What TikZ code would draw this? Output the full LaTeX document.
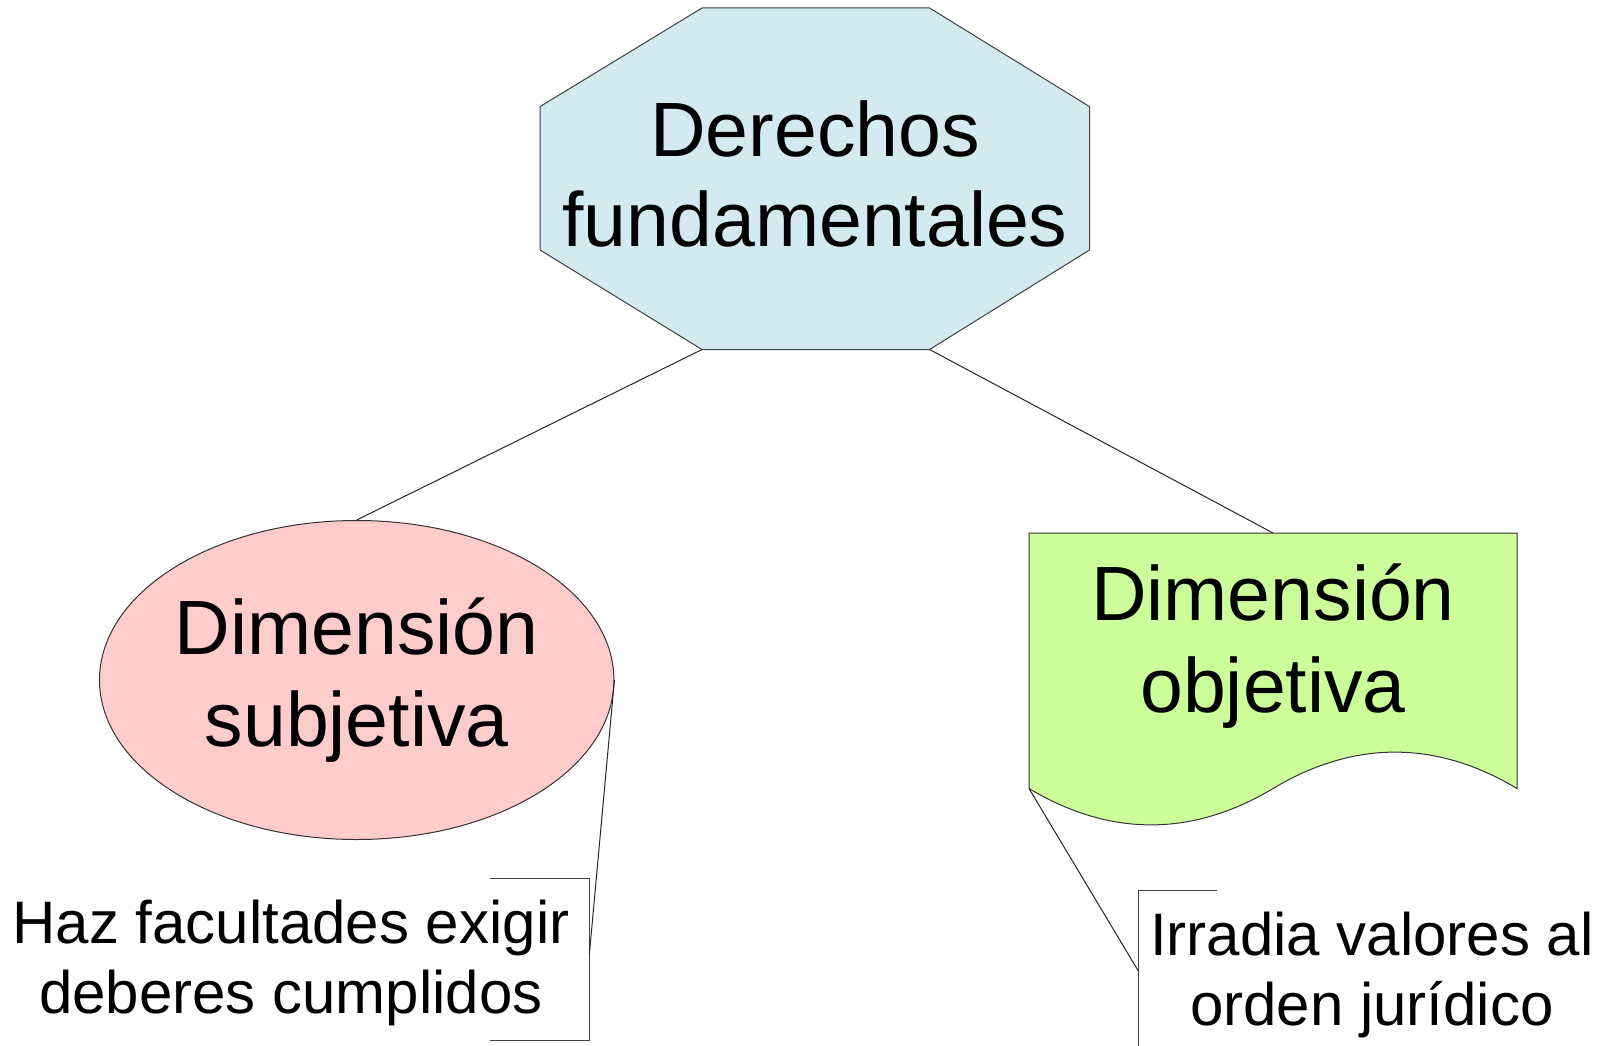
\documentclass[tikz,border=0pt]{standalone}
\usepackage{fontspec}
\setmainfont{Liberation Sans}
\usepackage{tikz}
\usetikzlibrary{shapes.geometric}
\usetikzlibrary{calc}
\definecolor{azul}{RGB}{210,234,240}
\definecolor{rosa}{RGB}{255,204,204}
\definecolor{verde}{RGB}{204,255,153}
\tikzstyle{octo}=[draw=black!75,fill=azul,line width=1pt]
\tikzstyle{titulo}=[align=center,inner sep=0pt,
        font=\fontsize{77}{90}\selectfont]
\tikzstyle{elipse}=[
        ellipse,
        draw=black!80,
        fill=rosa,
        line width=1pt,
        minimum width=513pt,
        minimum height=319pt,
        inner sep=0pt,
        align=center,
        font=\fontsize{77}{92}\selectfont
]
\tikzstyle{hoja}=[draw=black!80,fill=verde,line width=1pt]
\tikzstyle{nota}=[align=center,inner sep=0pt,
        font=\fontsize{60}{70}\selectfont]
\tikzstyle{llave}=[draw=black!75,line width=1pt]
\tikzstyle{linea}=[draw=black!85,line width=1pt]

\begin{document}
\begin{tikzpicture}[x=1pt,y=-1pt]
\useasboundingbox (0,0) rectangle (1607,1046);
%Octagon corners
\coordinate (o1) at (702,8);
\coordinate (o2) at (929.6,8);
\coordinate (o3) at (1089.5,106.6);
\coordinate (o4) at (1089.5,250);
\coordinate (o5) at (929.6,349.5);
\coordinate (o6) at (702,349.5);
\coordinate (o7) at (540,250);
\coordinate (o8) at (540,106.6);
\draw[octo] (o1) -- (o2) -- (o3) -- (o4) -- (o5) -- (o6) -- (o7) -- (o8) -- cycle;
\node[titulo] (der) at (815,174) {Derechos\\fundamentales};
\node[elipse] (sub) at (356.7,680) {Dimensión\\subjetiva};
%Document shape
\coordinate (d1) at (1029,533);
\coordinate (d2) at (1517,533);
\coordinate (d3) at (1517,788.5);
\coordinate (d4) at (1029,788.5);
\coordinate (dtop) at (1273,533);
\draw[hoja] (d1) -- (d2) -- (d3)
  .. controls (1436,740) and (1354,740) .. (1273,788.5)
  .. controls (1192,837) and (1110,837) .. (d4) -- cycle;
\node[titulo,font=\fontsize{77}{92}\selectfont] (obj) at (1273,646.5) {Dimensión\\objetiva};
%Callouts
\node[nota] (haz) at (291,962.7) {Haz facultades exigir\\deberes cumplidos};
\node[nota] (irr) at (1372,974.5) {Irradia valores al\\orden jurídico};
\coordinate (h1) at (489.9,878.3);
\coordinate (h2) at (589.3,878.3);
\coordinate (h3) at (589.3,1040.3);
\coordinate (h4) at (489.9,1040.3);
\coordinate (hp) at (589.3,955);
\coordinate (i1) at (1216.6,890.6);
\coordinate (i2) at (1138.7,890.6);
\coordinate (i3) at (1138.7,1046);
\coordinate (ip) at (1138.7,971.6);
%Drawing Edges
\draw[linea] (o6) -- (sub.north);
\draw[linea] (o5) -- (dtop);
\draw[llave] (h1) -- (h2) -- (h3) -- (h4);
\draw[linea] (sub.east) -- (hp);
\draw[llave] (i1) -- (i2) -- (i3);
\draw[linea] (d4) -- (ip);
\end{tikzpicture}
\end{document}
